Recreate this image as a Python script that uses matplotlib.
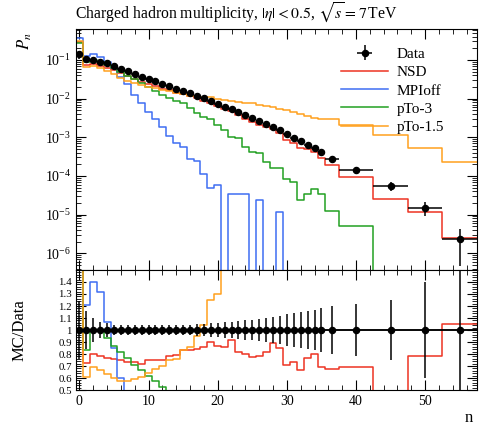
import matplotlib
matplotlib.use('Agg')
import matplotlib.pyplot as plt
import matplotlib.ticker as ticker
import numpy as np

plt.rcParams['font.family'] = ['Liberation Serif', 'DejaVu Serif']
plt.rcParams['mathtext.fontset'] = 'stix'

# bins: unit bins up to 35.5, then wider ones in the tail
bin_edges = list(np.arange(-0.5, 36.0, 1.0)) + [37.5, 42.5, 47.5, 52.5, 57.5]

data = [0.140, 0.105, 0.099, 0.091, 0.081, 0.071, 0.060, 0.051, 0.044, 0.037,
        0.032, 0.028, 0.024, 0.021, 0.018, 0.016, 0.0138, 0.012, 0.0103, 0.0087,
        0.0073, 0.0062, 0.0053, 0.0045, 0.0037, 0.0032, 0.0027, 0.0022, 0.0018, 0.0015,
        0.0012, 0.00098, 0.00079, 0.00065, 0.00052, 0.00042,
        0.00028, 0.00014, 5.6e-5, 1.5e-5, 2.3e-6]
# relative uncertainty of the data
data_relerr = [0.24, 0.16, 0.10, 0.07, 0.055, 0.045, 0.04, 0.04, 0.04, 0.04,
               0.04, 0.04, 0.04, 0.04, 0.04, 0.045, 0.045, 0.05, 0.05, 0.055,
               0.06, 0.065, 0.07, 0.075, 0.08, 0.085, 0.09, 0.10, 0.11, 0.12,
               0.13, 0.14, 0.15, 0.16, 0.17, 0.18,
               0.20, 0.22, 0.25, 0.40, 0.80]

nsd = [0.29, 0.0761, 0.0792, 0.0710, 0.0624, 0.0536, 0.0450, 0.0375, 0.0321, 0.0266,
       0.0240, 0.0210, 0.0181, 0.0164, 0.0142, 0.0134, 0.01145, 0.01008, 0.00881, 0.00783,
       0.00631, 0.00530, 0.00485, 0.00369, 0.00296, 0.00248, 0.00211, 0.00180, 0.00160, 0.00128,
       0.000852, 0.000715, 0.000529, 0.000497, 0.000416, 0.000290,
       0.000188, 9.66e-5, 2.52e-5, 1.17e-5, 2.42e-6]

mpioff = [0.37, 0.127, 0.139, 0.120, 0.0867, 0.0604, 0.036, 0.0235, 0.0123, 0.0079,
          0.0046, 0.0030, 0.0018, 0.0011, 0.0007, 0.00056, 0.00027, 0.00024, 0.000115, 5.0e-5,
          5.8e-5, 0, 3.5e-5, 3.5e-5, 3.5e-5, 0, 2.4e-5, 0, 0, 1.2e-5,
          0, 0, 0, 0, 0, 0,
          0, 0, 0, 0, 0]

pt0_3 = [0.28, 0.0872, 0.099, 0.090, 0.0753, 0.0618, 0.0492, 0.0393, 0.0312, 0.0248,
         0.0198, 0.0161, 0.0127, 0.0103, 0.0088, 0.0077, 0.0056, 0.0042, 0.0033, 0.0029,
         0.0021, 0.0015, 0.0010, 0.00095, 0.00056, 0.00042, 0.00040, 0.00023, 0.000162, 0.000162,
         8.3e-5, 7.1e-5, 2.4e-5, 3.5e-5, 4.6e-5, 3.5e-5,
         1.26e-5, 5.0e-6, 0, 0, 0]

pt0_15 = [0.30, 0.0641, 0.0688, 0.0610, 0.0510, 0.0426, 0.0345, 0.0293, 0.0260, 0.0226,
          0.0205, 0.0188, 0.0168, 0.0158, 0.0137, 0.0134, 0.0119, 0.0114, 0.0107, 0.0109,
          0.0095, 0.0094, 0.0088, 0.0083, 0.0078, 0.0075, 0.0070, 0.0063, 0.0059, 0.0055,
          0.0050, 0.0044, 0.0040, 0.0036, 0.0032, 0.0030,
          0.0029, 0.0021, 0.00115, 0.00052, 0.00023]

mc_series = [("NSD", nsd, "#ee3322"),
             ("MPIoff", mpioff, "#3f6ef2"),
             ("pTo-3", pt0_3, "#22a022"),
             ("pTo-1.5", pt0_15, "#ffa01e")]

edges = np.array(bin_edges)
centres = 0.5 * (edges[1:] + edges[:-1])
halfw = 0.5 * (edges[1:] - edges[:-1])
d = np.array(data)
derr = np.array(data_relerr)

fig = plt.figure(figsize=(4.94, 4.26), dpi=100)
ax = fig.add_axes([0.1538, 0.3662, 0.8118, 0.5657])
axr = fig.add_axes([0.1538, 0.0845, 0.8118, 0.2817], sharex=ax)

for name, vals, col in mc_series:
    v = np.array(vals, dtype=float)
    ax.step(edges, np.append(v, v[-1]), where='post', color=col, lw=1.1, label=name)
    axr.step(edges, np.append(v / d, v[-1] / d[-1]), where='post', color=col, lw=1.1)

ax.errorbar(centres, d, yerr=d * derr, xerr=halfw, fmt='o', ms=4.4, color='black',
            elinewidth=1.1, capsize=0, zorder=5, label='Data')

axr.axhline(1.0, color='black', lw=1.1, zorder=4)
axr.errorbar(centres, np.ones_like(d), yerr=derr, xerr=halfw, fmt='o', ms=4.4,
             color='black', elinewidth=1.1, capsize=0, zorder=5)

ax.set_yscale('log')
ax.set_ylim(3.7e-7, 0.63)
ax.set_xlim(-0.5, 57.5)
axr.set_ylim(0.5, 1.5)

for a in (ax, axr):
    a.xaxis.set_major_locator(ticker.MultipleLocator(10))
    a.xaxis.set_minor_locator(ticker.MultipleLocator(2))
    a.tick_params(which='both', direction='in', top=True, right=True, labelsize=10)
    a.tick_params(which='major', length=7, width=0.8)
    a.tick_params(which='minor', length=3.5, width=0.6)
ax.tick_params(labelbottom=False)
ax.yaxis.set_major_locator(ticker.LogLocator(base=10, numticks=20))
ax.yaxis.set_minor_locator(ticker.LogLocator(base=10, subs=np.arange(2, 10), numticks=20))
axr.yaxis.set_major_locator(ticker.MultipleLocator(0.1))
axr.yaxis.set_minor_locator(ticker.MultipleLocator(0.02))
axr.yaxis.set_major_formatter(ticker.FormatStrFormatter('%g'))
axr.set_yticks([0.5, 0.6, 0.7, 0.8, 0.9, 1.0, 1.1, 1.2, 1.3, 1.4])
axr.tick_params(axis='y', labelsize=7.8, pad=3)

ax.set_ylabel('$P_n$', loc='top', fontsize=12)
ax.yaxis.set_label_coords(-0.105, 0.985)
axr.set_ylabel('MC/Data', fontsize=12)
axr.yaxis.set_label_coords(-0.12, 0.5)
axr.set_xlabel('n', loc='right', fontsize=12)
axr.xaxis.label.set_va('center')
axr.xaxis.set_label_coords(0.99, -0.235)

fig.text(0.152, 0.955, r'Charged hadron multiplicity, $|\eta| < 0.5$, $\sqrt{s} = 7\,$TeV',
         fontsize=11.3, ha='left', va='baseline')

handles, labels = ax.get_legend_handles_labels()
order = [labels.index(l) for l in ['Data', 'NSD', 'MPIoff', 'pTo-3', 'pTo-1.5']]
ax.legend([handles[i] for i in order], [labels[i] for i in order],
          loc='upper left', bbox_to_anchor=(0.675, 0.907), bbox_transform=fig.transFigure,
          frameon=False, fontsize=11, handlelength=3.1, handletextpad=0.55,
          labelspacing=0.3, borderpad=0)

plt.savefig('out.png', dpi=100)
